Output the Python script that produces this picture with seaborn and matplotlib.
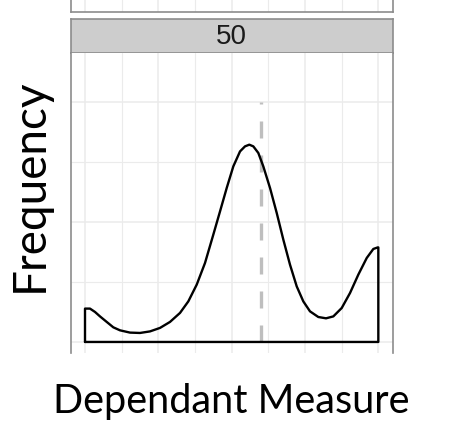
import matplotlib
matplotlib.use("Agg")
import matplotlib.pyplot as plt
import seaborn as sns
import pandas as pd

# ---- data ----
facet_label = "50"
x_label = "Dependant Measure"
y_label = "Frequency"
curve_x = [0.0, 1.70, 3.41, 5.11, 7.40, 9.65, 11.93, 15.34, 18.75, 22.16, 25.57,
           28.98, 32.39, 35.22, 38.09, 40.91, 43.74, 46.03, 48.31, 50.56, 52.85,
           54.55, 56.02, 57.38, 59.09, 60.79, 63.08, 65.36, 67.61, 69.89, 72.18,
           74.43, 76.71, 79.54, 82.17, 84.66, 87.52, 90.35, 93.18, 96.05, 98.30,
           99.80, 100.0]
curve_y = [0.278, 0.278, 0.250, 0.213, 0.167, 0.122, 0.097, 0.078, 0.075, 0.088,
           0.117, 0.167, 0.242, 0.338, 0.478, 0.658, 0.894, 1.088, 1.283, 1.463,
           1.588, 1.630, 1.644, 1.630, 1.575, 1.463, 1.283, 1.075, 0.853, 0.644,
           0.463, 0.338, 0.255, 0.208, 0.197, 0.213, 0.283, 0.408, 0.561, 0.700,
           0.775, 0.788, 0.788]
ref_x = 60.0
ref_top = 2.0
x_major = [0, 25, 50, 75, 100]
x_minor = [12.5, 37.5, 62.5, 87.5]
y_major = [0, 1, 2]
y_minor = [0.5, 1.5]

sns.set_theme(style="white")
plt.rcParams['font.family'] = ['Lato', 'DejaVu Sans']

W, H = 452, 426
fig = plt.figure(figsize=(W / 100, H / 100), dpi=100)

border = "#8C8C8C"
gridc = "#EBEBEB"

def px_axes(x0, y0, x1, y1):
    return fig.add_axes([x0 / W, 1 - y1 / H, (x1 - x0) / W, (y1 - y0) / H])

def style_grid(ax):
    ax.set_xticks(x_major)
    ax.set_xticks(x_minor, minor=True)
    ax.set_yticks(y_major)
    ax.set_yticks(y_minor, minor=True)
    ax.grid(True, which="major", color=gridc, linewidth=1.1)
    ax.grid(True, which="minor", color=gridc, linewidth=0.8)
    ax.tick_params(which="both", length=0, labelbottom=False, labelleft=False)
    ax.set_xlabel("")
    ax.set_ylabel("")
    ax.set_axisbelow(True)

XL = (-4.876, 104.9)

# remnant of panel above
ax_top = px_axes(70.7, -20, 392.7, 12)
ax_top.set_xlim(*XL)
ax_top.set_ylim(0, 1)
style_grid(ax_top)
ax_top.set_yticks([])
ax_top.set_yticks([], minor=True)
for s in ["left", "right", "bottom"]:
    ax_top.spines[s].set_color(border)
    ax_top.spines[s].set_linewidth(1.2)
ax_top.spines["top"].set_visible(False)

# strip
ax_strip = px_axes(70.7, 19, 392.7, 53)
ax_strip.set_facecolor("#CDCDCD")
ax_strip.set_xticks([])
ax_strip.set_yticks([])
for s in ax_strip.spines.values():
    s.set_color(border)
    s.set_linewidth(1.2)
ax_strip.text(0.5, 0.46, facet_label, ha="center", va="center",
              fontsize=20, family=["Liberation Sans", "DejaVu Sans"],
              color="#1A1A1A", transform=ax_strip.transAxes)

# main panel
ax = px_axes(70.7, 53, 392.7, 353)
ax.set_xlim(*XL)
ax.set_ylim(-0.092, 2.408)
style_grid(ax)
for s in ["left", "right"]:
    ax.spines[s].set_color(border)
    ax.spines[s].set_linewidth(1.2)
ax.spines["top"].set_visible(False)
ax.spines["bottom"].set_visible(False)

ax.plot([ref_x, ref_x], [0, ref_top], color="#BEBEBE", linewidth=2.4,
        linestyle=(0, (5.1, 5.1)), solid_capstyle="butt", zorder=2)

outline = pd.DataFrame({
    "x": [curve_x[0]] + curve_x + [curve_x[-1], curve_x[0]],
    "y": [0.0] + curve_y + [0.0, 0.0],
})
sns.lineplot(data=outline, x="x", y="y", sort=False, estimator=None,
             color="black", linewidth=1.7, ax=ax, zorder=3)
ax.lines[-1].set_solid_joinstyle("round")
ax.set_xlabel("")
ax.set_ylabel("")

fig.text(30 / W, 1 - 185 / H, y_label, rotation=90, ha="center", va="center",
         fontsize=33, color="black")
fig.text(231 / W, 1 - 413 / H, x_label, ha="center", va="baseline",
         fontsize=28.5, color="black")

fig.savefig("out.png", dpi=100)
